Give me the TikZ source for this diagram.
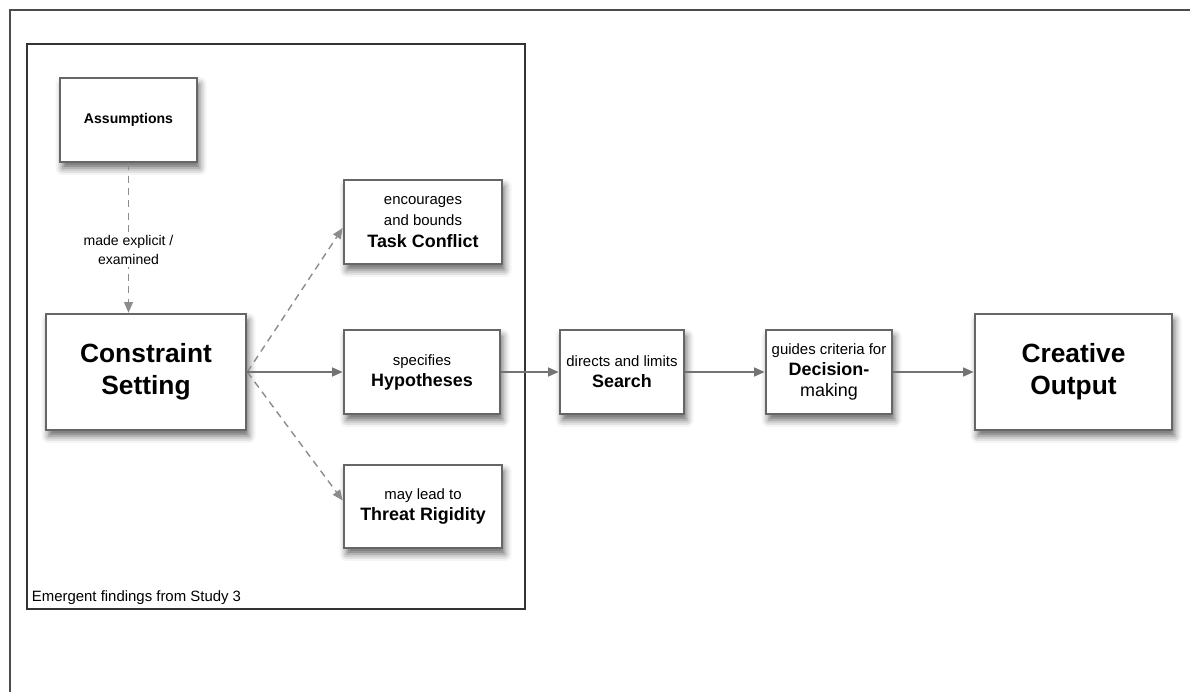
\documentclass[tikz,border=0pt]{standalone}
\usepackage{fontspec}
\setmainfont{Liberation Sans}
\usetikzlibrary{shadows.blur, arrows.meta}

\begin{document}
\begin{tikzpicture}[x=0.02cm, y=-0.02cm]
        % ================= styles =================
        \tikzset{
            % process box with soft shadow
            box/.style={draw=black!60, line width=1.5pt, fill=white, align=center, inner sep=2pt,
                minimum width=#1, minimum height=1.68cm,
                blur shadow={shadow xshift=1.5pt, shadow yshift=-3.5pt, shadow blur radius=4pt, shadow opacity=60}},
            box/.default=3.1cm,
            % large boxes at both ends
            bigbox/.style={box=#1, minimum height=2.32cm, font=\fontsize{15}{18}\selectfont\bfseries},
            % frame around the emergent findings
            frame/.style={draw=black!80, line width=0.9pt, minimum width=9.96cm, minimum height=11.3cm, inner sep=0pt},
            % main flow
            flow/.style={draw=black!55, line width=1.1pt, -{Triangle[length=6pt, width=5pt]}},
            % dashed (emergent) links
            hint/.style={draw=black!45, line width=0.8pt, dash pattern=on 4pt off 3pt, -{Triangle[length=6pt, width=5pt]}},
            small/.style={font=\fontsize{8.5}{10}\selectfont},
        }
        \newcommand{\lo}{\fontsize{8.5}{11}\selectfont}
        \newcommand{\hi}{\fontsize{10.2}{12}\selectfont\bfseries}

        \useasboundingbox (0,0) rectangle (1190,692);

        % page frame (top and left only)
        \draw[black!70, line width=1.2pt] (10,692) -- (10,10) -- (1190,10);

        % ================= emergent findings =================
        \node[frame] (study) at (276,326.5) {};
        \node[small, anchor=south west, inner sep=3pt] (note) at (study.south west) {Emergent findings from Study 3};

        \node[box=2.74cm, font=\fontsize{8}{10}\selectfont\bfseries] (assume) at (128.5,120) {Assumptions};
        \node[bigbox=4cm] (constraint) at (146,372) {Constraint\\Setting};

        \node[box=3.16cm] (task) at (423,222) {{\lo encourages}\\{\lo and bounds}\\{\hi Task Conflict}};
        \node[box=3.12cm] (hypo) at (422,372) {{\lo specifies}\\{\hi Hypotheses}};
        \node[box=3.16cm, minimum height=1.66cm] (threat) at (423,506.5) {{\lo may lead to}\\{\hi Threat Rigidity}};

        % ================= main chain =================
        \node[box=2.48cm] (search) at (622,372) {{\lo directs and limits}\\{\hi Search}};
        \node[box=2.52cm] (decide) at (829,372) {{\lo guides criteria for}\\{\hi Decision-}\\{\hi\mdseries making}};
        \node[bigbox=3.94cm] (output) at (1073.5,372) {Creative\\Output};

        % links
        \draw[hint] (assume.south) -- (constraint.north -| assume.south) node[pos=0.58, fill=white, align=center, inner sep=1pt, font=\fontsize{8}{11}\selectfont] {made explicit /\\examined};
        \draw[hint] (constraint.east) -- ([yshift=-0.12cm]task.west);
        \draw[hint] (constraint.east) -- ([yshift=0.12cm]threat.west);
        \draw[flow] (constraint) -- (hypo);
        \draw[flow] (hypo) -- (search);
        \draw[flow] (search) -- (decide);
        \draw[flow] (decide) -- (output);

    \end{tikzpicture}
\end{document}
